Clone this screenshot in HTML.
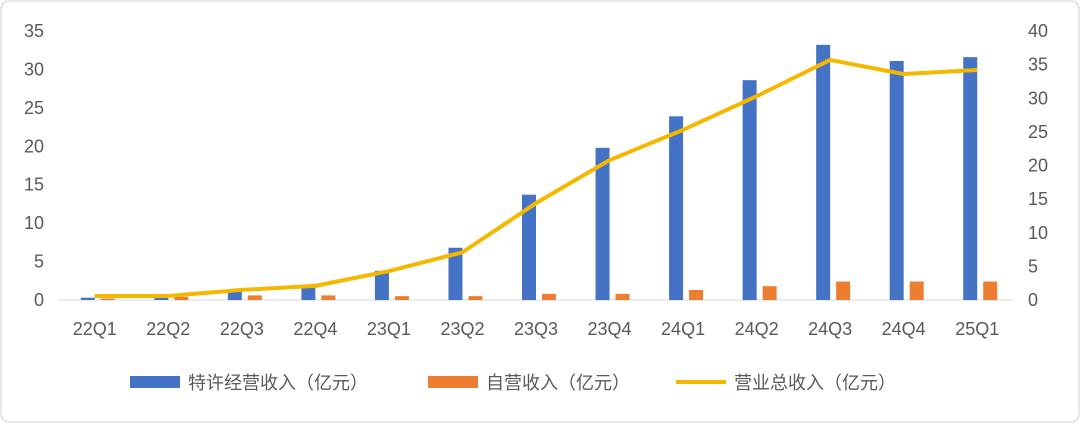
<!DOCTYPE html>
<html><head><meta charset="utf-8"><style>
body{margin:0;background:#fff;}
#wrap{width:1080px;height:424px;position:relative;overflow:hidden;}
svg text{font-family:"Liberation Sans","Noto Sans CJK SC",sans-serif;fill:#595959;}
</style></head><body>
<div id="wrap">
<svg id="chart" width="1080" height="424">
<rect x="1" y="1" width="1078" height="421" rx="8" fill="#fff" stroke="#d0d0d0"/>
</svg>
</div>
<script>
const categories=["22Q1","22Q2","22Q3","22Q4","23Q1","23Q2","23Q3","23Q4","24Q1","24Q2","24Q3","24Q4","25Q1"];
const franchise=[0.3,0.5,1.2,1.8,3.8,6.8,13.7,19.8,23.9,28.6,33.2,31.1,31.6];
const selfRun=[0.2,0.4,0.6,0.6,0.5,0.5,0.8,0.8,1.3,1.8,2.4,2.4,2.4];
const total=[0.6,0.6,1.5,2.1,4.3,7.1,14.4,20.8,25.3,30.3,35.7,33.6,34.2];
const leftTicks=[0,5,10,15,20,25,30,35];
const rightTicks=[0,5,10,15,20,25,30,35,40];
const NS="http://www.w3.org/2000/svg";
const svg=document.getElementById('chart');
const x0=58,x1=1014,yBase=300,yTop=31;
const step=(x1-x0)/categories.length;
const xc=i=>x0+step*(i+0.5);
const yL=v=>yBase-(yBase-yTop)*v/35;
const yR=v=>yBase-(yBase-yTop)*v/40;
function mk(t,a){const e=document.createElementNS(NS,t);for(const k in a)e.setAttribute(k,a[k]);svg.appendChild(e);return e;}
leftTicks.forEach(v=>{const e=mk('text',{x:44,y:yL(v)+6,'text-anchor':'end','font-size':18});e.textContent=v;

});
rightTicks.forEach(v=>{const e=mk('text',{x:1028,y:yR(v)+6,'text-anchor':'start','font-size':18});e.textContent=v;

});
const ax=mk('line',{x1:x0,x2:x1,y1:yBase,y2:yBase,stroke:'#d9d9d9','stroke-width':1});


categories.forEach((c,i)=>{
const b=mk('rect',{x:xc(i)-14,y:yL(franchise[i]),width:14,height:yBase-yL(franchise[i]),fill:'#4472c4'});


const o=mk('rect',{x:xc(i)+6,y:yL(selfRun[i]),width:14,height:yBase-yL(selfRun[i]),fill:'#ed7d31'});


const t=mk('text',{x:xc(i),y:335,'text-anchor':'middle','font-size':18});t.textContent=c;


});
const pl=mk('polyline',{points:total.map((v,i)=>xc(i)+','+yR(v)).join(' '),fill:'none',stroke:'#f5b800','stroke-width':4,'stroke-linejoin':'round'});


const leg=[['rect','#4472c4',130,'特许经营收入（亿元）'],['rect','#ed7d31',428,'自营收入（亿元）'],['line','#f5b800',676,'营业总收入（亿元）']];
leg.forEach(l=>{
let m;
if(l[0]==='rect')m=mk('rect',{x:l[2],y:376,width:50,height:12,fill:l[1]});
else m=mk('line',{x1:l[2],x2:l[2]+50,y1:382,y2:382,stroke:l[1],'stroke-width':4});


const t=mk('text',{x:l[2]+58,y:389,'font-size':18});t.textContent=l[3];


});
</script>
</body></html>
